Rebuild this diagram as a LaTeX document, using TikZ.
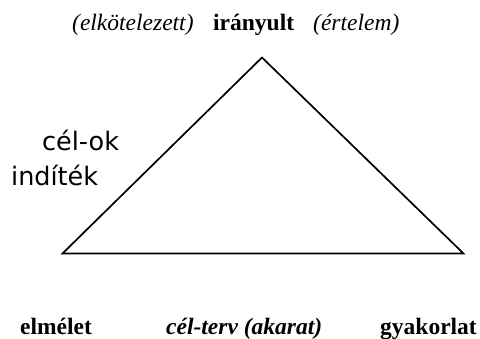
\documentclass[tikz,border=0pt]{standalone}
\usepackage{fontspec}
\setmainfont{Liberation Serif}
\newfontfamily\labsans{DejaVu Sans}
\tikzset{
  lab/.style={anchor=base west, inner sep=0pt, font=\fontsize{23.5}{28}\selectfont},
  sidelab/.style={anchor=base west, inner sep=0pt, font=\labsans\fontsize{25.5}{30}\selectfont},
  edge/.style={line width=1.7pt, line join=miter}
}
\begin{document}
\begin{tikzpicture}[x=1pt,y=-1pt]
\useasboundingbox (0,0) rectangle (480,338);
% triangle
\coordinate (apex) at (262,57.5);
\coordinate (left) at (62.5,253.5);
\coordinate (right) at (463.5,253.5);
\draw[edge] (left) -- (apex) -- (right) -- cycle;
% top labels
\node[lab] (elk) at (72,30.5) {\itshape (elkötelezett)};
\node[lab] (ira) at (213,30.5) {\bfseries irányult};
\node[lab] (ert) at (313,30.5) {\itshape (értelem)};
% side labels
\node[sidelab] (celok) at (42,150) {cél-ok};
\node[sidelab] (indi) at (11,185) {indíték};
% bottom labels
\node[lab] (elm) at (20,334) {\bfseries elmélet};
\node[lab] (celt) at (166,334) {\bfseries\itshape cél-terv (akarat)};
\node[lab] (gyak) at (380,334) {\bfseries gyakorlat};
\end{tikzpicture}
\end{document}
